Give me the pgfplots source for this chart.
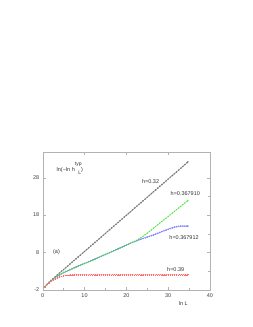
\documentclass[border=0pt]{standalone}
\usepackage{pgfplots}
\pgfplotsset{compat=1.18}
\usepackage{fontspec}
\setmainfont{Liberation Sans}
\definecolor{cgray}{RGB}{110,110,110}
\definecolor{cgreen}{RGB}{60,230,40}
\definecolor{cblue}{RGB}{120,120,255}
\definecolor{cred}{RGB}{255,110,110}
\begin{document}
\begin{tikzpicture}
\useasboundingbox (-42.7pt,-37.3pt) rectangle (210.3pt,289.7pt);
\begin{axis}[
  at={(0pt,0pt)}, anchor=south west,
  width=167.3pt, height=138pt, scale only axis,
  xmin=0, xmax=40, ymin=-2, ymax=35,
  xtick={0,10,20,30,40}, ytick={-2,8,18,28},
  minor x tick num=1, minor y tick num=1,
  major tick length=3pt, minor tick length=1.5pt,
  tick align=inside,
  axis line style={gray!60, line width=0.4pt},
  tick style={gray!60, line width=0.4pt},
  every tick label/.append style={font=\fontsize{5.5}{6}\selectfont, text=black!75},
  /pgf/number format/assume math mode=true,
  clip=false,
  mark size=0.7pt,
]
% h=0.32
\addplot[cgray, line width=0.3pt, mark=o, mark options={solid, line width=0.3pt}] coordinates {
(0.5,-1.3)(1.0,-0.6)(1.5,-0.05)(2.0,0.45)(2.5,0.95)(3.0,1.45)(3.5,1.95)(4.0,2.45)(4.5,2.93)(5.0,3.4)
(5.5,3.89)(6.0,4.37)(6.5,4.86)(7.0,5.34)(7.5,5.83)(8.0,6.31)(8.5,6.80)(9.0,7.28)(9.5,7.77)(10.0,8.25)
(10.5,8.74)(11.0,9.22)(11.5,9.71)(12.0,10.19)(12.5,10.68)(13.0,11.16)(13.5,11.65)(14.0,12.13)(14.5,12.62)(15.0,13.10)
(15.5,13.59)(16.0,14.07)(16.5,14.56)(17.0,15.04)(17.5,15.53)(18.0,16.01)(18.5,16.50)(19.0,16.98)(19.5,17.47)(20.0,17.95)
(20.5,18.44)(21.0,18.92)(21.5,19.41)(22.0,19.89)(22.5,20.38)(23.0,20.86)(23.5,21.35)(24.0,21.83)(24.5,22.32)(25.0,22.80)
(25.5,23.29)(26.0,23.77)(26.5,24.26)(27.0,24.74)(27.5,25.23)(28.0,25.71)(28.5,26.20)(29.0,26.68)(29.5,27.17)(30.0,27.65)
(30.5,28.14)(31.0,28.62)(31.5,29.11)(32.0,29.59)(32.5,30.08)(33.0,30.56)(33.5,31.05)(34.0,31.53)(34.5,32.02)(34.7,32.26)
};
% h=0.367912
\addplot[cblue, line width=0.3pt, mark=o, mark options={solid, line width=0.3pt}] coordinates {
(0.5,-1.3)(1.0,-0.65)(1.5,-0.1)(2.0,0.4)(2.5,0.85)(3.0,1.25)(3.5,1.6)(4.0,1.95)(4.5,2.3)(5.0,2.6)
(5.5,2.85)(6.0,3.1)(6.5,3.35)(7.0,3.6)(7.5,3.85)(8.0,4.1)(8.5,4.33)(9.0,4.56)(9.5,4.8)(10.0,5.03)
(10.5,5.27)(11.0,5.5)(11.5,5.74)(12.0,5.97)(12.5,6.2)(13.0,6.45)(13.5,6.7)(14.0,6.95)(14.5,7.2)(15.0,7.45)
(15.5,7.7)(16.0,7.95)(16.5,8.2)(17.0,8.45)(17.5,8.7)(18.0,8.95)(18.5,9.2)(19.0,9.45)(19.5,9.7)(20.0,9.95)
(20.5,10.2)(21.0,10.45)(21.5,10.7)(22.0,10.93)(22.5,11.15)(23.0,11.35)(23.5,11.55)(24.0,11.75)(24.5,11.93)(25.0,12.1)
(25.5,12.3)(26.0,12.5)(26.5,12.7)(27.0,12.9)(27.5,13.12)(28.0,13.35)(28.5,13.58)(29.0,13.8)(29.5,14.0)(30.0,14.2)
(30.5,14.4)(31.0,14.6)(31.5,14.77)(32.0,14.9)(32.5,15.0)(33.0,15.05)(33.5,15.05)(34.0,15.05)(34.5,15.05)(34.7,15.05)
};
% h=0.367910
\addplot[cgreen, line width=0.3pt, mark=*, mark options={solid}, mark size=0.5pt, opacity=0.8] coordinates {
(0.5,-1.3)(1.0,-0.65)(1.5,-0.1)(2.0,0.4)(2.5,0.85)(3.0,1.25)(3.5,1.6)(4.0,1.95)(4.5,2.3)(5.0,2.6)
(5.5,2.85)(6.0,3.1)(6.5,3.35)(7.0,3.6)(7.5,3.85)(8.0,4.1)(8.5,4.33)(9.0,4.56)(9.5,4.8)(10.0,5.03)
(10.5,5.27)(11.0,5.5)(11.5,5.74)(12.0,5.97)(12.5,6.2)(13.0,6.45)(13.5,6.7)(14.0,6.95)(14.5,7.2)(15.0,7.45)
(15.5,7.7)(16.0,7.95)(16.5,8.2)(17.0,8.45)(17.5,8.7)(18.0,8.95)(18.5,9.2)(19.0,9.45)(19.5,9.7)(20.0,9.95)
(20.5,10.2)(21.0,10.45)(21.5,10.7)(22.0,10.95)(22.5,11.25)(23.0,11.6)(23.5,11.95)(24.0,12.35)(24.5,12.75)(25.0,13.15)
(25.5,13.6)(26.0,14.05)(26.5,14.5)(27.0,14.95)(27.5,15.4)(28.0,15.85)(28.5,16.3)(29.0,16.75)(29.5,17.2)(30.0,17.65)
(30.5,18.1)(31.0,18.55)(31.5,19.0)(32.0,19.45)(32.5,19.9)(33.0,20.35)(33.5,20.8)(34.0,21.25)(34.5,21.7)(34.7,21.9)
};
% h=0.39
\addplot[cred, line width=0.3pt, mark=+, mark options={solid, line width=0.25pt}, mark size=0.6pt] coordinates {
(0.5,-1.3)(1.0,-0.7)(1.5,-0.2)(2.0,0.25)(2.5,0.65)(3.0,0.95)(3.5,1.2)(4.0,1.4)(4.5,1.55)(5.0,1.7)
(5.5,1.8)(6.0,1.87)(6.5,1.92)(7.0,1.96)(7.5,1.98)(8.0,2.0)(8.5,2.0)(9.0,2.0)(9.5,2.0)(10.0,2.0)
(10.5,2.0)(11.0,2.0)(11.5,2.0)(12.0,2.0)(12.5,2.0)(13.0,2.0)(13.5,2.0)(14.0,2.0)(14.5,2.0)(15.0,2.0)
(15.5,2.0)(16.0,2.0)(16.5,2.0)(17.0,2.0)(17.5,2.0)(18.0,2.0)(18.5,2.0)(19.0,2.0)(19.5,2.0)(20.0,2.0)
(20.5,2.0)(21.0,2.0)(21.5,2.0)(22.0,2.0)(22.5,2.0)(23.0,2.0)(23.5,2.0)(24.0,2.0)(24.5,2.0)(25.0,2.0)
(25.5,2.0)(26.0,2.0)(26.5,2.0)(27.0,2.0)(27.5,2.0)(28.0,2.0)(28.5,2.0)(29.0,2.0)(29.5,2.0)(30.0,2.0)
(30.5,2.0)(31.0,2.0)(31.5,2.0)(32.0,2.0)(32.5,2.0)(33.0,2.0)(33.5,2.0)(34.0,2.0)(34.5,2.0)(34.7,2.0)
};
\begin{scope}[every node/.style={font=\fontsize{5.5}{6}\selectfont, text=black!80, inner sep=0pt}]
\node at (axis cs:25.8,26.95) {h=0.32};
\node at (axis cs:34.1,23.7) {h=0.367910};
\node at (axis cs:33.8,11.9) {h=0.367912};
\node at (axis cs:31.8,3.5) {h=0.39};
\node at (axis cs:3.3,8.0) {(a)};
\node[anchor=west] at (axis cs:3.3,30.4) {ln(\textminus ln h\makebox[0pt][l]{\raisebox{5.5pt}{\fontsize{5}{5}\selectfont typ}}\hspace{3.5pt}\raisebox{-3.5pt}{\fontsize{5}{5}\selectfont L})};
\node at (axis cs:33.6,-2) [yshift=-13.6pt] {ln L};
\end{scope}
\end{axis}
\end{tikzpicture}
\end{document}
